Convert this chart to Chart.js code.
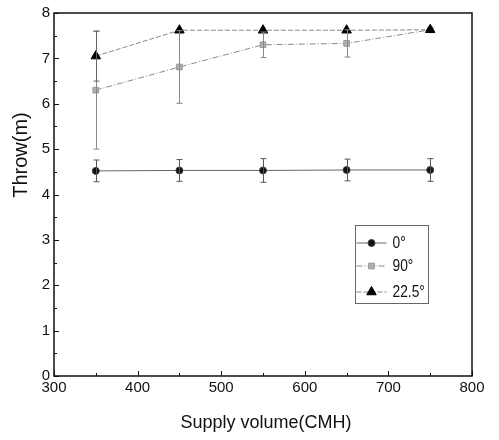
<!DOCTYPE html>
<html>
<head>
<meta charset="utf-8">
<script src="https://cdn.jsdelivr.net/npm/chart.js@4"></script>
<style>
  html, body { margin: 0; padding: 0; background: #fff; }
  #wrap { width: 499px; height: 440px; }
</style>
</head>
<body>
<div id="wrap"><canvas id="throw-chart" width="499" height="440"></canvas></div>
<script>
const supplyVolume = [350, 450, 550, 650, 750];

const throw0 = [4.52, 4.53, 4.53, 4.54, 4.54];
const err0 = [0.24, 0.24, 0.26, 0.24, 0.25];

const throw90 = [6.3, 6.81, 7.3, 7.33, 7.63];
const err90 = [1.3, 0.8, 0.28, 0.3, 0];

const throw225 = [7.05, 7.62, 7.62, 7.62, 7.63];
const err225 = [0.55, 0, 0, 0, 0];

const seriesLabels = ["0°", "90°", "22.5°"];
const xTicks = [300, 400, 500, 600, 700, 800];
const yTicks = [0, 1, 2, 3, 4, 5, 6, 7, 8];

const FONT = "'Liberation Sans', Arial, sans-serif";

const toPoints = (ys) => supplyVolume.map((x, i) => ({ x: x, y: ys[i] }));

// error bars, inward ticks, frame, axis titles and legend box
const decorations = {
  id: "decorations",
  afterDatasetsDraw(chart) {
    const ctx = chart.ctx;
    const xs = chart.scales.x;
    const ys = chart.scales.y;
    const area = chart.chartArea;

    ctx.save();
    chart.data.datasets.forEach((ds) => {
      ctx.strokeStyle = ds.errColor;
      ctx.lineWidth = 1;
      ds.data.forEach((p, i) => {
        const e = ds.errors[i];
        if (!e) return;
        const px = Math.round(xs.getPixelForValue(p.x)) + 0.5;
        const top = ys.getPixelForValue(p.y + e);
        const bot = ys.getPixelForValue(p.y - e);
        ctx.beginPath();
        ctx.moveTo(px, top);
        ctx.lineTo(px, bot);
        ctx.moveTo(px - 3, top);
        ctx.lineTo(px + 3, top);
        ctx.moveTo(px - 3, bot);
        ctx.lineTo(px + 3, bot);
        ctx.stroke();
      });
    });

    // frame
    ctx.strokeStyle = "#111";
    ctx.lineWidth = 1.5;
    ctx.strokeRect(area.left, area.top, area.right - area.left, area.bottom - area.top);

    // inward ticks
    ctx.lineWidth = 1;
    for (let v = 0; v <= 8; v += 0.5) {
      const py = Math.round(ys.getPixelForValue(v)) + 0.5;
      const len = v % 1 === 0 ? 5 : 3;
      ctx.beginPath();
      ctx.moveTo(area.left, py);
      ctx.lineTo(area.left + len, py);
      ctx.stroke();
    }
    for (let v = 300; v <= 800; v += 50) {
      const px = Math.round(xs.getPixelForValue(v)) + 0.5;
      const len = v % 100 === 0 ? 5 : 3;
      ctx.beginPath();
      ctx.moveTo(px, area.bottom);
      ctx.lineTo(px, area.bottom - len);
      ctx.stroke();
    }

    // axis titles
    ctx.fillStyle = "#111";
    ctx.textAlign = "center";
    ctx.textBaseline = "middle";
    ctx.font = "18px " + FONT;
    ctx.fillText("Supply volume(CMH)", (area.left + area.right) / 2 + 3, 423);
    ctx.save();
    ctx.translate(21, 155);
    ctx.rotate(-Math.PI / 2);
    ctx.font = "20px " + FONT;
    ctx.fillText("Throw(m)", 0, 0);
    ctx.restore();

    // legend
    const box = { x: 355.5, y: 225.5, w: 73, h: 78 };
    ctx.strokeStyle = "#666";
    ctx.lineWidth = 1;
    ctx.strokeRect(box.x, box.y, box.w, box.h);
    const rows = [243, 266, 292];
    chart.data.datasets.forEach((ds, i) => {
      const ry = rows[i];
      ctx.save();
      ctx.strokeStyle = ds.borderColor;
      ctx.lineWidth = 1;
      ctx.setLineDash(ds.borderDash || []);
      ctx.beginPath();
      ctx.moveTo(box.x + 1, ry);
      ctx.lineTo(box.x + 31, ry);
      ctx.stroke();
      ctx.restore();
      ctx.fillStyle = ds.pointBackgroundColor;
      ctx.strokeStyle = ds.pointBorderColor;
      Chart.helpers.drawPoint(ctx, {
        pointStyle: ds.pointStyle,
        radius: ds.pointRadius,
        borderWidth: 1,
        rotation: 0
      }, box.x + 16, ry);
      ctx.save();
      ctx.translate(box.x + 37, ry + 1);
      ctx.scale(0.86, 1);
      ctx.fillStyle = "#111";
      ctx.textAlign = "left";
      ctx.textBaseline = "middle";
      ctx.font = "16px " + FONT;
      ctx.fillText(seriesLabels[i], 0, 0);
      ctx.restore();
    });
    ctx.restore();
  }
};

const makeChart = () => {
  const ctx = document.getElementById("throw-chart").getContext("2d");
  return new Chart(ctx, {
    type: "scatter",
    data: {
      datasets: [
        {
          label: seriesLabels[0],
          data: toPoints(throw0),
          errors: err0,
          errColor: "#555",
          showLine: true,
          borderColor: "#666",
          borderWidth: 1,
          pointStyle: "circle",
          pointRadius: 3.5,
          pointBackgroundColor: "#111",
          pointBorderColor: "#444",
          order: 3
        },
        {
          label: seriesLabels[1],
          data: toPoints(throw90),
          errors: err90,
          errColor: "#888",
          showLine: true,
          borderColor: "#8a8a8a",
          borderWidth: 1,
          borderDash: [6, 2, 1, 2],
          pointStyle: "rect",
          pointRadius: 4,
          pointBackgroundColor: "#b0b0b0",
          pointBorderColor: "#999",
          order: 2
        },
        {
          label: seriesLabels[2],
          data: toPoints(throw225),
          errors: err225,
          errColor: "#666",
          showLine: true,
          borderColor: "#888",
          borderWidth: 1,
          borderDash: [5, 2],
          pointStyle: "triangle",
          pointRadius: 5.5,
          pointBackgroundColor: "#000",
          pointBorderColor: "#000",
          order: 1
        }
      ]
    },
    options: {
      responsive: false,
      animation: false,
      layout: { padding: { left: 0, top: 13, right: 27, bottom: 0 } },
      plugins: {
        legend: { display: false },
        tooltip: { enabled: false }
      },
      scales: {
        x: {
          type: "linear",
          min: 300,
          max: 800,
          afterBuildTicks: (scale) => {
            scale.ticks = xTicks.map((v) => ({ value: v }));
          },
          afterFit: (scale) => {
            scale.height = 64;
          },
          grid: { display: false, drawTicks: false },
          border: { display: false },
          ticks: {
            color: "#111",
            padding: 3,
            maxRotation: 0,
            font: { family: FONT, size: 15 }
          }
        },
        y: {
          min: 0,
          max: 8,
          afterBuildTicks: (scale) => {
            scale.ticks = yTicks.map((v) => ({ value: v }));
          },
          afterFit: (scale) => {
            scale.width = 54;
          },
          grid: { display: false, drawTicks: false },
          border: { display: false },
          ticks: {
            color: "#111",
            padding: 4,
            font: { family: FONT, size: 15 }
          }
        }
      }
    },
    plugins: [decorations]
  });
};

makeChart();
</script>
</body>
</html>
